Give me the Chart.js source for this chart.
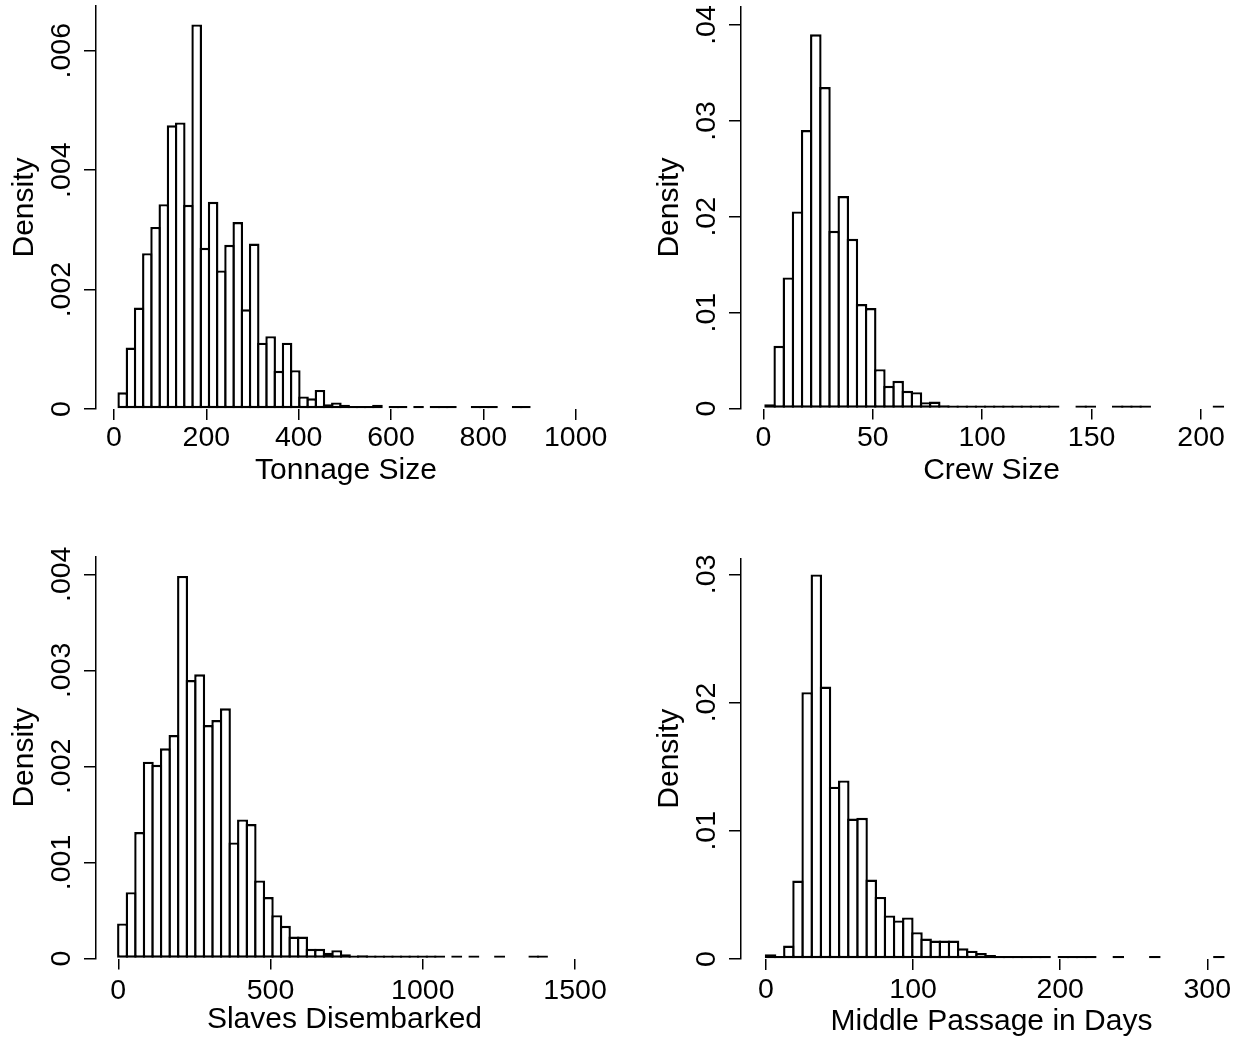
<!DOCTYPE html>
<html>
<head>
<meta charset="utf-8">
<script src="https://cdn.jsdelivr.net/npm/chart.js@4.4.1/dist/chart.umd.min.js"></script>
<style>
  html, body { margin: 0; padding: 0; background: #fff; }
  #wrap { position: relative; width: 1242px; height: 1040px; overflow: hidden; }
  canvas { position: absolute; }
</style>
</head>
<body>
<div id="wrap">
  <canvas id="tonnage" width="640" height="520" style="left:0;top:0"></canvas>
  <canvas id="crew" width="597" height="520" style="left:645px;top:0"></canvas>
  <canvas id="slaves" width="640" height="520" style="left:0;top:520px"></canvas>
  <canvas id="passage" width="597" height="520" style="left:645px;top:520px"></canvas>
</div>
<script>
// histogram bins: first bin start, bin width, density per bin
const tonnageStart = 10, tonnageWidth = 17.8;
const tonnageDensity = [
  0.00028, 0.00103, 0.00170, 0.00261, 0.00305, 0.00343, 0.00475, 0.00480, 0.00342, 0.00644,
  0.00270, 0.00347, 0.00232, 0.00275, 0.00313, 0.00167, 0.00277, 0.00111, 0.00122, 0.00064,
  0.00111, 0.00065, 0.00021, 0.00018, 0.00032, 0.00008, 0.00011, 0.00007, 0.00005, 0.00005,
  0.00002, 0.00007, 0, 0.00004, 0.00002, 0, 0.00002, 0, 0.00002, 0.00002,
  0.00002, 0, 0, 0.00002, 0.00002, 0.00002, 0, 0, 0.00002, 0.00002
];
const tonnageXTicks = [0, 200, 400, 600, 800, 1000];
const tonnageYTicks = [0, 0.002, 0.004, 0.006];
const tonnageYLabels = ['0', '.002', '.004', '.006'];

const crewStart = 1, crewWidth = 4.18;
const crewDensity = [
  0.00045, 0.00654, 0.01367, 0.02056, 0.02904, 0.03903, 0.03353, 0.01854, 0.02216, 0.01770,
  0.01089, 0.01047, 0.00410, 0.00237, 0.00289, 0.00184, 0.00170, 0.00066, 0.00073, 0.00035,
  0.00028, 0.00031, 0.00014, 0.00010, 0.00008, 0.00008, 0.00006, 0.00008, 0.00012, 0.00010,
  0.00010, 0.00012, 0, 0, 0.00006, 0.00006, 0, 0, 0.00004, 0.00004,
  0.00004, 0.00004, 0, 0, 0, 0, 0, 0, 0, 0.00004
];
const crewXTicks = [0, 50, 100, 150, 200];
const crewYTicks = [0, 0.01, 0.02, 0.03, 0.04];
const crewYLabels = ['0', '.01', '.02', '.03', '.04'];

const slavesStart = 0, slavesWidth = 28.14;
const slavesDensity = [
  0.000365, 0.000691, 0.001316, 0.002049, 0.002017, 0.002188, 0.002326, 0.003983, 0.002899, 0.002958,
  0.002431, 0.002483, 0.002604, 0.001208, 0.001448, 0.001399, 0.000813, 0.000639, 0.000451, 0.000340,
  0.000229, 0.000229, 0.000101, 0.000101, 0.000059, 0.000087, 0.000045, 0.000024, 0.000035, 0.000017,
  0.000014, 0.000010, 0.000008, 0.000008, 0.000006, 0.000006, 0.000004, 0.000004, 0, 0.000004,
  0, 0.000004, 0, 0, 0.000004, 0, 0, 0, 0.000004, 0.000004
];
const slavesXTicks = [0, 500, 1000, 1500];
const slavesYTicks = [0, 0.001, 0.002, 0.003, 0.004];
const slavesYLabels = ['0', '.001', '.002', '.003', '.004'];

const passageStart = 0, passageWidth = 6.22;
const passageDensity = [
  0.00037, 0.00010, 0.00105, 0.00612, 0.02081, 0.02999, 0.02125, 0.01344, 0.01393, 0.01095,
  0.01101, 0.00620, 0.00484, 0.00340, 0.00301, 0.00324, 0.00209, 0.00159, 0.00144, 0.00144,
  0.00144, 0.00084, 0.00065, 0.00047, 0.00031, 0.00010, 0.00010, 0.00008, 0.00018, 0.00005,
  0.00010, 0, 0.00004, 0.00004, 0.00004, 0.00004, 0, 0, 0.00004, 0,
  0, 0, 0.00004, 0, 0, 0, 0, 0, 0, 0.00004
];
const passageXTicks = [0, 100, 200, 300];
const passageYTicks = [0, 0.01, 0.02, 0.03];
const passageYLabels = ['0', '.01', '.02', '.03'];

const FONT = "'Liberation Sans', Arial, Helvetica, sans-serif";
const LINE = 2.4;
const Y_AXIS_W = 96;
Chart.defaults.font.family = FONT;
Chart.defaults.color = '#000';

// Stata-style y tick labels: rotated, centred on the tick
const yTickLabels = {
  id: 'yTickLabels',
  afterDraw(chart, args, opts) {
    const scale = chart.scales.y;
    const ctx = chart.ctx;
    ctx.save();
    ctx.font = opts.size + 'px ' + FONT;
    ctx.fillStyle = '#000';
    ctx.textAlign = 'center';
    ctx.textBaseline = 'alphabetic';
    opts.values.forEach((v, i) => {
      ctx.save();
      ctx.translate(chart.chartArea.left - opts.gap, scale.getPixelForValue(v));
      ctx.rotate(-Math.PI / 2);
      ctx.fillText(opts.labels[i], 0, 0);
      ctx.restore();
    });
    ctx.restore();
  }
};

function histogram(id, h) {
  const canvas = document.getElementById(id);
  const points = h.density.map((d, i) => ({ x: h.start + (i + 0.5) * h.width, y: d === 0 ? null : d }));
  // bars one line-width wider than the bin so neighbouring outlines overlap into a single edge
  const plotW = canvas.width - h.pad.left - h.pad.right - Y_AXIS_W;
  const binPx = h.width * plotW / (h.xMax - h.xMin);

  return new Chart(canvas, {
    type: 'bar',
    data: {
      datasets: [{
        data: points,
        backgroundColor: '#fff',
        borderColor: '#000',
        borderWidth: LINE,
        borderSkipped: false,
        inflateAmount: 0,
        minBarLength: 3,
        barThickness: binPx + LINE
      }]
    },
    options: {
      responsive: false,
      animation: false,
      events: [],
      layout: { padding: h.pad },
      plugins: {
        legend: { display: false },
        tooltip: { enabled: false },
        yTickLabels: { values: h.yTicks, labels: h.yLabels, size: 28.5, gap: 26 }
      },
      scales: {
        x: {
          type: 'linear',
          min: h.xMin,
          max: h.xMax,
          offset: false,
          afterBuildTicks: s => { s.ticks = h.xTicks.map(v => ({ value: v })); },
          afterFit: s => { s.height = h.xHeight; },
          border: { display: false },
          grid: { offset: false, drawOnChartArea: false, tickLength: 11, tickColor: '#000', lineWidth: 1.5 },
          ticks: {
            padding: h.tickPad,
            font: { size: 28.5 },
            color: '#000',
            maxRotation: 0,
            autoSkip: false,
            callback: (v, i) => String(h.xTicks[i])
          },
          title: { display: true, text: h.title, font: { size: 30 }, color: '#000', padding: { top: 0, bottom: h.titlePad } }
        },
        y: {
          min: 0,
          max: h.yMax,
          afterBuildTicks: s => { s.ticks = h.yTicks.map(v => ({ value: v })); },
          afterFit: s => { s.width = Y_AXIS_W; },
          border: { display: true, color: '#000', width: 1.5 },
          grid: { drawOnChartArea: false, tickLength: 12, tickColor: '#000', lineWidth: 1.5 },
          ticks: { display: false },
          title: { display: true, text: 'Density', font: { size: 30 }, color: '#000', padding: { top: 6.6, bottom: 0 } }
        }
      }
    },
    plugins: [yTickLabels]
  });
}

histogram('tonnage', {
  start: tonnageStart, width: tonnageWidth, density: tonnageDensity,
  xTicks: tonnageXTicks, yTicks: tonnageYTicks, yLabels: tonnageYLabels, title: 'Tonnage Size',
  xMin: -39, xMax: 1044.1, yMax: 0.006749,
  pad: { left: 0, top: 6, right: 44, bottom: 0 }, xHeight: 111, tickPad: 1.5, titlePad: 31.0
});
histogram('crew', {
  start: crewStart, width: crewWidth, density: crewDensity,
  xTicks: crewXTicks, yTicks: crewYTicks, yLabels: crewYLabels, title: 'Crew Size',
  xMin: -10.19, xMax: 218.7, yMax: 0.04191,
  pad: { left: 0, top: 6.7, right: 0, bottom: 0 }, xHeight: 111.5, tickPad: 2, titlePad: 31.0
});
histogram('slaves', {
  start: slavesStart, width: slavesWidth, density: slavesDensity,
  xTicks: slavesXTicks, yTicks: slavesYTicks, yLabels: slavesYLabels, title: 'Slaves Disembarked',
  xMin: -73.2, xMax: 1559, yMax: 0.004183,
  pad: { left: 0, top: 36.7, right: 47, bottom: 0 }, xHeight: 81.5, tickPad: 4.5, titlePad: 2.5
});
histogram('passage', {
  start: passageStart, width: passageWidth, density: passageDensity,
  xTicks: passageXTicks, yTicks: passageYTicks, yLabels: passageYLabels, title: 'Middle Passage in Days',
  xMin: -17, xMax: 323.6, yMax: 0.03125,
  pad: { left: 0, top: 38.3, right: 0, bottom: 0 }, xHeight: 81, tickPad: 2.9, titlePad: 0
});
</script>
</body>
</html>
